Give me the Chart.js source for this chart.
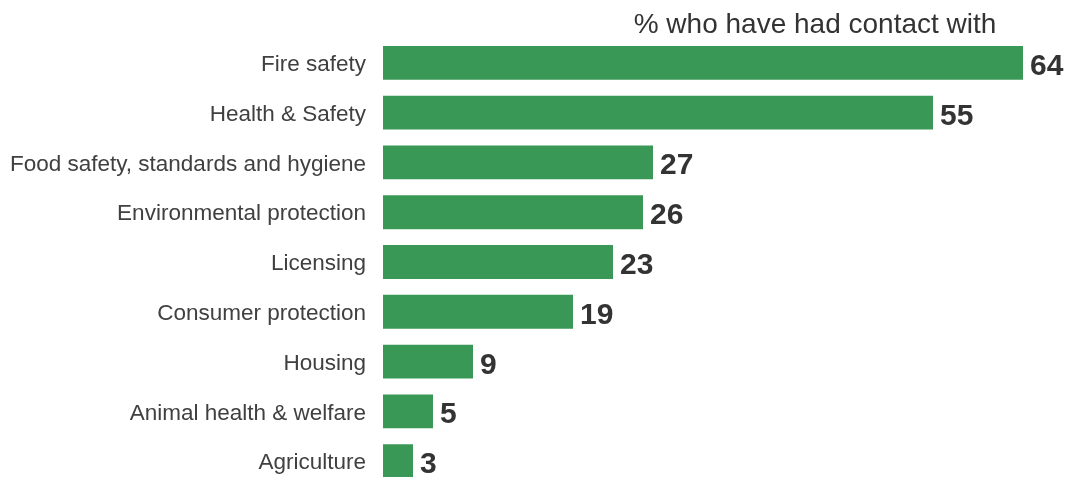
<!DOCTYPE html>
<html>
<head>
<meta charset="utf-8">
<script src="https://cdn.jsdelivr.net/npm/chart.js@4/dist/chart.umd.min.js"></script>
<style>
  html, body { margin: 0; padding: 0; background: #fff; overflow: hidden; }
  #wrap { position: relative; width: 1071px; height: 486px; }
</style>
</head>
<body>
<div id="wrap"><canvas id="c" width="1071" height="486"></canvas></div>
<script>
const categories = [
  'Fire safety',
  'Health & Safety',
  'Food safety, standards and hygiene',
  'Environmental protection',
  'Licensing',
  'Consumer protection',
  'Housing',
  'Animal health & welfare',
  'Agriculture'
];
const contactPct = [64, 55, 27, 26, 23, 19, 9, 5, 3];
const headerText = '% who have had contact with';

const FONT = '"Liberation Sans", Arial, sans-serif';

// Bold value written just past the end of each bar
const valueLabels = {
  id: 'valueLabels',
  afterDatasetsDraw(chart) {
    const ctx = chart.ctx;
    const meta = chart.getDatasetMeta(0);
    ctx.save();
    ctx.font = 'bold 30px ' + FONT;
    ctx.fillStyle = '#333333';
    ctx.textAlign = 'left';
    ctx.textBaseline = 'alphabetic';
    meta.data.forEach((bar, i) => {
      ctx.fillText(String(contactPct[i]), bar.x + 7, bar.y + 12);
    });
    ctx.restore();
  }
};

// Column heading above the bars
const header = {
  id: 'header',
  afterDraw(chart) {
    const ctx = chart.ctx;
    ctx.save();
    ctx.font = '28px ' + FONT;
    ctx.fillStyle = '#333333';
    ctx.textAlign = 'center';
    ctx.textBaseline = 'alphabetic';
    ctx.fillText(headerText, 815, 33);
    ctx.restore();
  }
};

new Chart(document.getElementById('c'), {
  type: 'bar',
  data: {
    labels: categories,
    datasets: [{
      data: contactPct,
      backgroundColor: '#3A9856',
      borderWidth: 0,
      barPercentage: 0.68,
      categoryPercentage: 1.0
    }]
  },
  options: {
    indexAxis: 'y',
    responsive: false,
    animation: false,
    layout: { padding: { top: 38, right: 0, bottom: 0, left: 0 } },
    plugins: { legend: { display: false }, tooltip: { enabled: false } },
    scales: {
      x: {
        min: 0,
        max: 68.8,
        display: false,
        grid: { display: false }
      },
      y: {
        grid: { display: false, drawTicks: false },
        border: { display: false },
        ticks: {
          color: '#404040',
          font: { family: FONT, size: 22.5 },
          padding: 17,
          labelOffset: 2,
          autoSkip: false
        },
        afterFit(scale) {
          scale.width = 383;
          scale.paddingTop = 0;
          scale.paddingBottom = 0;
        }
      }
    }
  },
  plugins: [valueLabels, header]
});
</script>
</body>
</html>
